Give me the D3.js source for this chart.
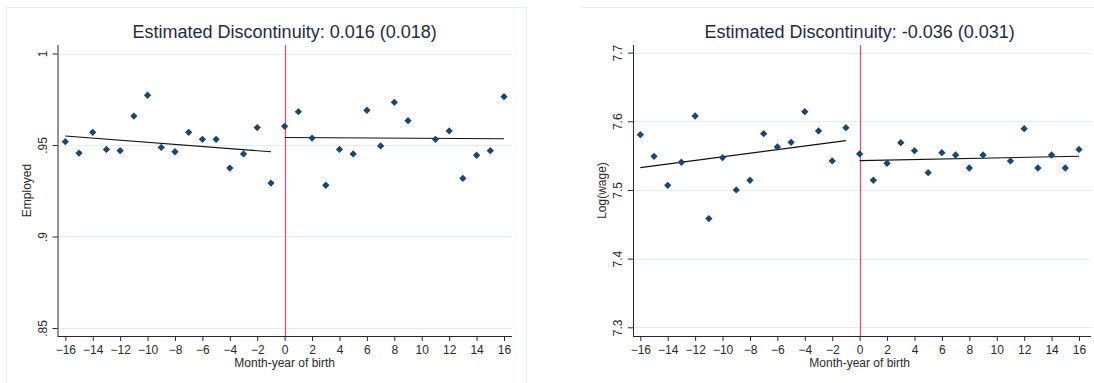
<!DOCTYPE html>
<html>
<head>
<meta charset="utf-8">
<script src="https://cdn.jsdelivr.net/npm/d3@7"></script>
<style>
body { margin: 0; background: #fff; }
svg { display: block; font-family: "Liberation Sans", Arial, sans-serif; }
</style>
</head>
<body>
<script>
var width = 1094,
    height = 383;

// month-year of birth relative to cutoff (month 10 has no point in either panel)
var months = [-16,-15,-14,-13,-12,-11,-10,-9,-8,-7,-6,-5,-4,-3,-2,-1,0,1,2,3,4,5,6,7,8,9,11,12,13,14,15,16];
var xTicks = [-16,-14,-12,-10,-8,-6,-4,-2,0,2,4,6,8,10,12,14,16];

var employed = [0.9518,0.9456,0.9569,0.9476,0.9469,0.9658,0.9772,0.9487,0.9463,0.9569,0.9531,0.9531,0.9374,0.9451,0.9595,0.9292,
                0.9602,0.9682,0.9538,0.9280,0.9476,0.9451,0.9690,0.9495,0.9733,0.9633,0.9531,0.9577,0.9318,0.9444,0.9469,0.9764];
var logWage = [7.5805,7.5490,7.5068,7.5403,7.6077,7.4583,7.5470,7.5000,7.5141,7.5820,7.5626,7.5694,7.6140,7.5859,7.5422,7.5907,
               7.5524,7.5141,7.5389,7.5689,7.5572,7.5252,7.5543,7.5509,7.5320,7.5509,7.5422,7.5892,7.5320,7.5509,7.5320,7.5590];

// fitted lines on each side of the cutoff: [month, value]
var fitEmpLeft = [[-16, 0.9549], [-1, 0.9463]];
var fitEmpRight = [[0, 0.9541], [16, 0.9534]];
var fitWageLeft = [[-16, 7.5325], [-1, 7.5718]];
var fitWageRight = [[0, 7.5427], [16, 7.5490]];

var empTicks = [0.85, 0.9, 0.95, 1];
var empTickLabels = [".85", ".9", ".95", "1"];
var wageTicks = [7.3, 7.4, 7.5, 7.6, 7.7];
var wageTickLabels = ["7.3", "7.4", "7.5", "7.6", "7.7"];

var titles = ["Estimated Discontinuity: 0.016 (0.018)", "Estimated Discontinuity: -0.036 (0.031)"];

var svg = d3.select("body").append("svg").attr("width", width).attr("height", height);

var navy = "#1a476f", grid = "#e4eef0", red = "#d3577a", ink = "#2a2a2a";

// panel frames (faint)
svg.append("rect").attr("x", 6.5).attr("y", 7.5).attr("width", 520).attr("height", 390)
    .attr("fill", "none").attr("stroke", "#e6eff1");
svg.append("line").attr("x1", 580).attr("x2", width).attr("y1", 7.5).attr("y2", 7.5)
    .attr("stroke", "#e6eff1");

function panel(p) {
    var g = svg.append("g");
    var x = d3.scaleLinear().domain([-16, 16]).range(p.xr);
    var y = d3.scaleLinear().domain(p.yd).range(p.yr);

    // gridlines
    g.selectAll("line.grid").data(p.yTicks).enter().append("line")
        .attr("class", "grid")
        .attr("x1", p.left).attr("x2", p.right)
        .attr("y1", d => Math.round(y(d)) + 0.5).attr("y2", d => Math.round(y(d)) + 0.5)
        .attr("stroke", grid).attr("stroke-width", 1);

    // cutoff
    g.append("line")
        .attr("x1", Math.round(x(0)) + 0.5).attr("x2", Math.round(x(0)) + 0.5)
        .attr("y1", p.top).attr("y2", p.bottom)
        .attr("stroke", red).attr("stroke-width", 1.3);

    // y axis
    var yAxis = d3.axisLeft(y).tickValues(p.yTicks).tickSize(5).tickFormat((d, i) => p.yLabels[i]);
    var ya = g.append("g").attr("transform", "translate(" + p.left + ",0)").call(yAxis);
    ya.select(".domain").attr("d", "M0.5," + p.top + "V" + p.bottom).attr("stroke", ink);
    ya.selectAll(".tick line").attr("stroke", ink);
    ya.selectAll(".tick text")
        .attr("x", null).attr("dy", null)
        .attr("transform", "translate(-15,0) rotate(-90)")
        .attr("text-anchor", "middle")
        .attr("dominant-baseline", "central")
        .attr("font-size", 12).attr("fill", ink);

    // x axis
    var xAxis = d3.axisBottom(x).tickValues(xTicks).tickSize(5).tickPadding(4);
    var xa = g.append("g").attr("transform", "translate(0," + p.bottom + ")").call(xAxis);
    xa.select(".domain").attr("d", "M" + p.left + ",0.5H" + p.right).attr("stroke", ink);
    xa.selectAll(".tick line").attr("stroke", ink);
    xa.selectAll(".tick text").attr("font-size", 12).attr("fill", ink);

    g.append("text").attr("x", x(0)).attr("y", p.bottom + 31)
        .attr("text-anchor", "middle").attr("font-size", 12).attr("fill", ink)
        .text("Month-year of birth");

    g.append("text")
        .attr("transform", "translate(" + (p.left - 31) + "," + ((p.top + p.bottom) / 2) + ") rotate(-90)")
        .attr("text-anchor", "middle").attr("dominant-baseline", "central")
        .attr("font-size", 12).attr("fill", ink)
        .text(p.yTitle);

    g.append("text").attr("x", x(0)).attr("y", 38)
        .attr("text-anchor", "middle").attr("font-size", 18).attr("fill", "#1f2a44")
        .text(p.title);

    // fitted lines
    var line = d3.line().x(d => x(d[0])).y(d => y(d[1]));
    [p.fitL, p.fitR].forEach(function (f) {
        g.append("path").attr("d", line(f)).attr("fill", "none")
            .attr("stroke", "#111").attr("stroke-width", 1.1);
    });

    // points
    var diamond = d3.symbol().type(d3.symbolDiamond2).size(34);
    g.selectAll("path.pt").data(p.vals).enter().append("path")
        .attr("class", "pt")
        .attr("d", diamond)
        .attr("transform", (d, i) => "translate(" + x(months[i]) + "," + y(d) + ")")
        .attr("fill", navy);
}

panel({
    xr: [65.3, 504], left: 57.5, right: 512, top: 45, bottom: 336,
    yd: [0.85, 1], yr: [328, 53.5], yTicks: empTicks, yLabels: empTickLabels,
    vals: employed, fitL: fitEmpLeft, fitR: fitEmpRight,
    yTitle: "Employed", title: titles[0]
});

panel({
    xr: [640.3, 1079], left: 633, right: 1091, top: 45, bottom: 336,
    yd: [7.3, 7.7], yr: [327.3, 52.6], yTicks: wageTicks, yLabels: wageTickLabels,
    vals: logWage, fitL: fitWageLeft, fitR: fitWageRight,
    yTitle: "Log(wage)", title: titles[1]
});
</script>
</body>
</html>
